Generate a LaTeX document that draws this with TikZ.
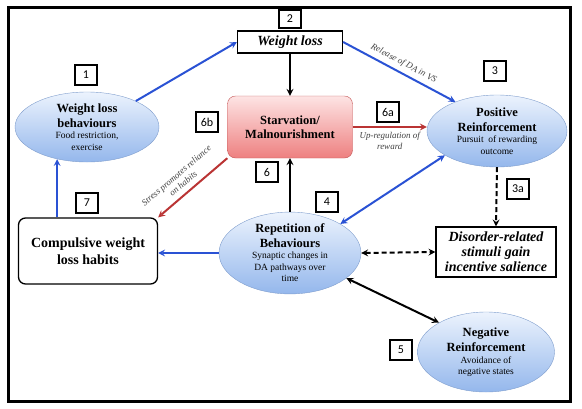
\documentclass[tikz,border=0pt]{standalone}
\usepackage{fontspec}
\setmainfont{Liberation Serif}
\newfontfamily\numfont{Carlito}
\usetikzlibrary{shapes.geometric}
\definecolor{bubbletop}{RGB}{236,243,253}
\definecolor{bubblebot}{RGB}{148,183,236}
\definecolor{bubbleline}{RGB}{128,158,205}
\definecolor{starvtop}{RGB}{253,228,228}
\definecolor{starvbot}{RGB}{238,128,128}
\definecolor{starvline}{RGB}{196,86,86}
\definecolor{arrowblue}{RGB}{42,82,212}
\definecolor{arrowred}{RGB}{186,52,52}
\newcommand{\bubbletitle}{\fontsize{12.5}{13}\selectfont\bfseries}
\begin{document}
\begin{tikzpicture}
    [
    x=1pt,
    y=-1pt,
    bubble/.style={
        ellipse,
        draw=bubbleline,
        top color=bubbletop,
        bottom color=bubblebot,
        inner sep=0pt,
        align=center,
        font=\fontsize{9.5}{11.5}\selectfont
    },
    plainbox/.style={
        rectangle,
        draw=black,
        line width=1.2pt,
        fill=white,
        align=center,
        inner sep=0pt,
        font=\fontsize{14}{15}\selectfont\bfseries\itshape
    },
    numbox/.style={
        rectangle,
        draw=black,
        line width=1.1pt,
        fill=white,
        minimum width=22pt,
        minimum height=20pt,
        inner sep=0pt,
        font=\numfont\fontsize{12}{12}\selectfont
    },
    lbl/.style={align=center, text=black!75, font=\fontsize{9}{10.5}\selectfont\itshape},
    arrow/.style={->, >=stealth, line width=2pt},
    barrow/.style={arrow, arrowblue},
    rarrow/.style={arrow, arrowred},
    karrow/.style={arrow, black},
    darrow/.style={arrow, black, dash pattern=on 5pt off 3pt}
    ]
\useasboundingbox (0,0) rectangle (582,408);

% Frame
    \draw[line width=3pt] (8,7) rectangle (570,401);

% Stages
    \node[plainbox, minimum width=105pt, minimum height=22pt] (loss) at (290,42) {Weight loss};
    \node[bubble, minimum width=144pt, minimum height=70pt] (behav) at (87,127)
        {{\bubbletitle Weight loss}\\[3pt]{\bubbletitle behaviours}\\ Food restriction,\\ exercise};
    \node[rectangle, rounded corners=8pt, draw=starvline, top color=starvtop, bottom color=starvbot,
        minimum width=125pt, minimum height=62pt, align=center,
        font=\fontsize{12.5}{14.5}\selectfont\bfseries] (starv) at (290,127) {Starvation/\\ Malnourishment};
    \node[bubble, minimum width=140pt, minimum height=72pt] (posrf) at (497,131)
        {{\bubbletitle Positive}\\[3pt]{\bubbletitle Reinforcement}\\ Pursuit\ \ of rewarding\\ outcome};
    \node[bubble, minimum width=142pt, minimum height=77pt] (rep) at (290,253)
        {{\bubbletitle Repetition of}\\[3pt]{\bubbletitle Behaviours}\\ Synaptic changes in\\ DA pathways over\\ time};
    \node[rectangle, rounded corners=7pt, draw=black, line width=1.3pt, fill=white,
        minimum width=139pt, minimum height=66pt, align=center,
        font=\fontsize{14}{16.5}\selectfont\bfseries] (habit) at (88,251) {Compulsive weight\\ loss habits};
    \node[plainbox, minimum width=120pt, minimum height=50pt] (salience) at (496,252)
        {Disorder-related\\ stimuli gain\\ incentive salience};
    \node[bubble, minimum width=137pt, minimum height=80pt] (negrf) at (486,352)
        {{\bubbletitle Negative}\\[3pt]{\bubbletitle Reinforcement}\\ Avoidance of\\ negative states};

% Numbers
    \node[numbox] (n1) at (86,75) {1};
    \node[numbox, minimum height=18pt] (n2) at (290,19) {2};
    \node[numbox] (n3) at (495,71) {3};
    \node[numbox] (n3a) at (518,189) {3a};
    \node[numbox] (n4) at (327,202) {4};
    \node[numbox] (n5) at (401,350) {5};
    \node[numbox] (n6) at (267,172) {6};
    \node[numbox] (n6a) at (388,112) {6a};
    \node[numbox] (n6b) at (207,122) {6b};
    \node[numbox] (n7) at (87,203) {7};

% Connectors
    \draw[barrow] (behav.28) -- (loss.west);
    \draw[barrow] (loss.east) -- node[lbl, sloped, above=1pt] {Release of DA in VS} (posrf.145);
    \draw[karrow] (loss.south) -- (starv.north);
    \draw[rarrow] (starv.east) -- node[lbl, below=1pt] {Up-regulation of\\ reward} (posrf.west |- starv.east);
    \draw[rarrow] (starv.south west) -- node[lbl, sloped, above=2pt, pos=0.55] {Stress promotes reliance\\ on habits} (habit.north east);
    \draw[karrow] (rep.north) -- (starv.south);
    \draw[barrow, <->] (posrf.205) -- (rep.30);
    \draw[barrow] (rep.west) -- (habit.east |- rep.west);
    \draw[barrow] (habit.north -| behav.227) -- (behav.227);
    \draw[darrow, <->] (rep.east) -- (salience.west);
    \draw[darrow] (posrf.south) -- (salience.north);
    \draw[karrow, <->] (rep.336) -- (negrf.148);

\end{tikzpicture}
\end{document}
